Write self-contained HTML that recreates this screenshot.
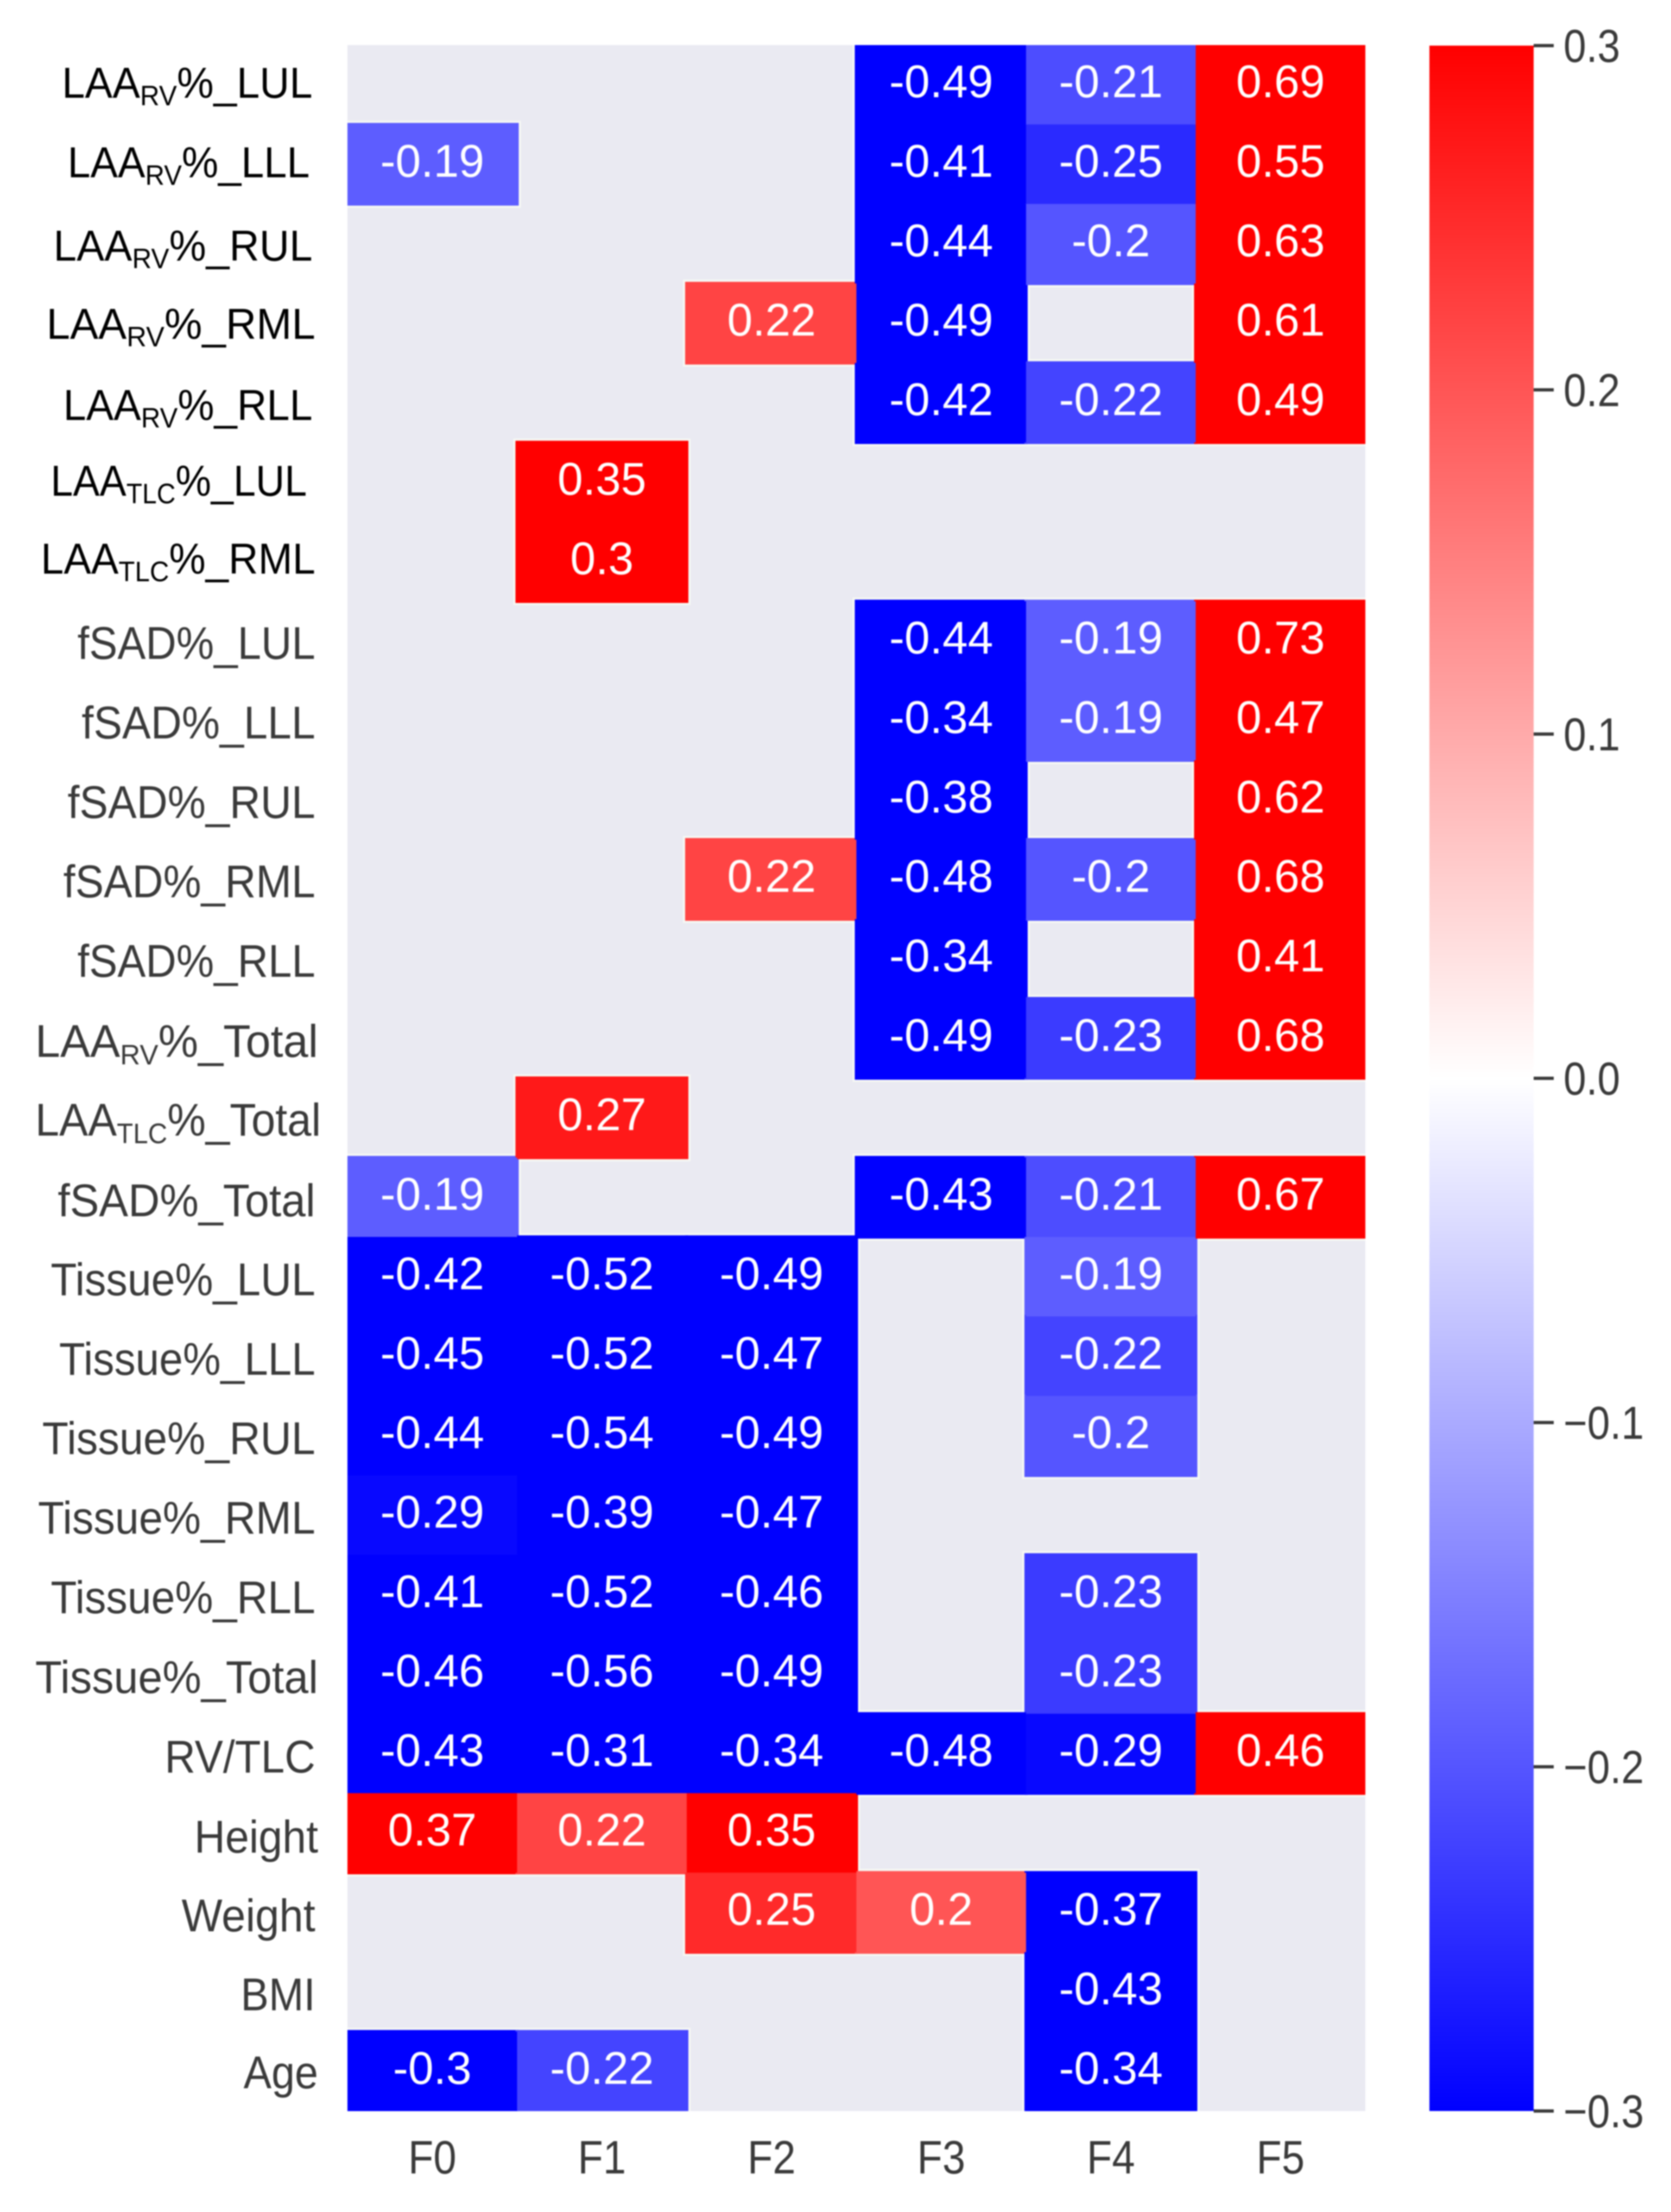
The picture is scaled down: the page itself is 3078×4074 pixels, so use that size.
<!DOCTYPE html>
<html lang="en">
<head>
<meta charset="utf-8">
<title>Correlation heatmap</title>
<style>
html,body{margin:0;padding:0;background:#fff;width:3078px;height:4074px;overflow:hidden}
svg{display:block;filter:blur(1.2px)}
text{font-family:"Liberation Sans",Arial,sans-serif}
</style>
</head>
<body>
<svg id="chart" xmlns="http://www.w3.org/2000/svg" width="3078" height="4074" viewBox="0 0 3078 4074">
  <defs>
    <linearGradient id="bwr" x1="0" y1="0" x2="0" y2="1">
      <stop offset="0" stop-color="#ff0000"/>
      <stop offset="0.5" stop-color="#ffffff"/>
      <stop offset="1" stop-color="#0000ff"/>
    </linearGradient>
  </defs>
  <rect x="0" y="0" width="3078" height="4074" fill="#ffffff"/>
  <g id="plot"></g>
  <g id="rowAxis"></g>
  <g id="colAxis"></g>
  <g id="cbar"></g>
</svg>
<script>
// ---------- data ----------
const columns = ['F0','F1','F2','F3','F4','F5'];
const rowPrefix = ['LAA','LAA','LAA','LAA','LAA','LAA','LAA','fSAD','fSAD','fSAD','fSAD','fSAD','LAA','LAA','fSAD','Tissue','Tissue','Tissue','Tissue','Tissue','Tissue','RV/TLC','Height','Weight','BMI','Age'];
const rowSub = ['RV','RV','RV','RV','RV','TLC','TLC','','','','','','RV','TLC','','','','','','','','','','','',''];
const rowSuffix = ['%_LUL','%_LLL','%_RUL','%_RML','%_RLL','%_LUL','%_RML','%_LUL','%_LLL','%_RUL','%_RML','%_RLL','%_Total','%_Total','%_Total','%_LUL','%_LLL','%_RUL','%_RML','%_RLL','%_Total','','','','',''];
// null = no value (gray background)
const valuesF0 = [null,-0.19,null,null,null,null,null,null,null,null,null,null,null,null,-0.19,-0.42,-0.45,-0.44,-0.29,-0.41,-0.46,-0.43,0.37,null,null,-0.3];
const valuesF1 = [null,null,null,null,null,0.35,0.3,null,null,null,null,null,null,0.27,null,-0.52,-0.52,-0.54,-0.39,-0.52,-0.56,-0.31,0.22,null,null,-0.22];
const valuesF2 = [null,null,null,0.22,null,null,null,null,null,null,0.22,null,null,null,null,-0.49,-0.47,-0.49,-0.47,-0.46,-0.49,-0.34,0.35,0.25,null,null];
const valuesF3 = [-0.49,-0.41,-0.44,-0.49,-0.42,null,null,-0.44,-0.34,-0.38,-0.48,-0.34,-0.49,null,-0.43,null,null,null,null,null,null,-0.48,null,0.2,null,null];
const valuesF4 = [-0.21,-0.25,-0.2,null,-0.22,null,null,-0.19,-0.19,null,-0.2,null,-0.23,null,-0.21,-0.19,-0.22,-0.2,null,-0.23,-0.23,-0.29,null,-0.37,-0.43,-0.34];
const valuesF5 = [0.69,0.55,0.63,0.61,0.49,null,null,0.73,0.47,0.62,0.68,0.41,0.68,null,0.67,null,null,null,null,null,null,0.46,null,null,null,null];
const colorbarTicks = [0.3,0.2,0.1,0,-0.1,-0.2,-0.3];
const colorbarTickLabels = ['0.3','0.2','0.1','0.0','\u22120.1','\u22120.2','\u22120.3'];

const series = [valuesF0,valuesF1,valuesF2,valuesF3,valuesF4,valuesF5];

// ---------- layout & axis functions ----------
const NS = 'http://www.w3.org/2000/svg';
const plotLeft = 640, plotTop = 83, colW = 312.5, rowH = 146.35;
const vmax = 0.3;
const xOf = c => plotLeft + c * colW;
const yOf = r => plotTop + r * rowH;
const plotRight = xOf(columns.length), plotBottom = yOf(rowPrefix.length);
const cbarLeft = 2633, cbarRight = 2825, cbarTop = 84, cbarBottom = 3888;
const cbarY = v => cbarTop + (vmax - v) / (2 * vmax) * (cbarBottom - cbarTop);
function colorOf(v){
  const t = Math.min(1, Math.abs(v) / vmax);
  const k = Math.round(255 * (1 - t));
  return v < 0 ? `rgb(${k},${k},255)` : `rgb(255,${k},${k})`;
}
function fmt(v){ return String(v); }
// a cell's rectangle grown by some pixels, clipped to the plot area
function grownBox(c, r, grow){
  const x0 = Math.max(xOf(c) - grow, plotLeft);
  const x1 = Math.min(xOf(c) + colW + grow, plotRight);
  const y0 = Math.max(yOf(r) - grow, plotTop);
  const y1 = Math.min(yOf(r) + rowH + grow, plotBottom);
  return {x: x0, y: y0, w: x1 - x0, h: y1 - y0};
}

const make = tag => document.createElementNS(NS, tag);
const plot = document.getElementById('plot');
const rowAxis = document.getElementById('rowAxis');
const colAxis = document.getElementById('colAxis');
const cbar = document.getElementById('cbar');

// plot background
const bg = make('rect');
bg.setAttribute('x', plotLeft);
bg.setAttribute('y', plotTop);
bg.setAttribute('width', plotRight - plotLeft);
bg.setAttribute('height', plotBottom - plotTop);
bg.setAttribute('fill', '#eaeaf2');


plot.appendChild(bg);

// sharpening halo around the colored cells
series.forEach((vals, c) => {
  vals.forEach((v, r) => {
    if (v === null) return;
    const box = grownBox(c, r, 7);
    const halo = make('rect');
    halo.setAttribute('x', box.x);
    halo.setAttribute('y', box.y);
    halo.setAttribute('width', box.w);
    halo.setAttribute('height', box.h);
    halo.setAttribute('fill', '#f6f8f4');
    
    
    plot.appendChild(halo);
  });
});
// slight overhang of each pasted patch
series.forEach((vals, c) => {
  vals.forEach((v, r) => {
    if (v === null) return;
    const box = grownBox(c, r, 3);
    const over = make('rect');
    over.setAttribute('x', box.x);
    over.setAttribute('y', box.y);
    over.setAttribute('width', box.w);
    over.setAttribute('height', box.h);
    over.setAttribute('fill', colorOf(v));
    
    
    plot.appendChild(over);
  });
});
// cells
series.forEach((vals, c) => {
  vals.forEach((v, r) => {
    if (v === null) return;
    const rect = make('rect');
    rect.setAttribute('x', xOf(c));
    rect.setAttribute('y', yOf(r));
    rect.setAttribute('width', colW);
    rect.setAttribute('height', rowH);
    rect.setAttribute('fill', colorOf(v));
    
    
    plot.appendChild(rect);
  });
});
// annotations drawn above all cells
series.forEach((vals, c) => {
  vals.forEach((v, r) => {
    if (v === null) return;
    const t = make('text');
    t.setAttribute('x', xOf(c) + colW / 2);
    t.setAttribute('y', yOf(r) + rowH / 2 + 23);
    t.setAttribute('text-anchor', 'middle');
    t.setAttribute('font-size', '84');
    t.setAttribute('fill', '#ffffff');
    
    
    t.textContent = fmt(v);
    plot.appendChild(t);
  });
});

// row labels: horizontal ink extents and baseline offsets in page pixels
const labelScale = 2.593;
const labelLeft = [44,48,38,33,45,36,29,55,58,48,45,55,25,25,41,36,42,30,27,36,25,117,138,129,171,173];
const labelRight = [222,220,222,224,222,218,224,224,224,224,224,224,226,228,224,224,224,224,224,224,226,224,226,224,224,226];
const labelBaseline = [24,24,31,29,32,25,22,33,33,33,33,33,34,33,35,34,34,34,34,34,35,35,36,35,34,31];
rowPrefix.forEach((p, r) => {
  const t = make('text');
  t.setAttribute('x', labelLeft[r] * labelScale);
  t.setAttribute('y', yOf(r) + rowH / 2 + labelBaseline[r]);
  t.setAttribute('font-size', r < 7 ? '80' : '84');
  t.setAttribute('fill', r < 7 ? '#000000' : '#3a3a3a');
  t.setAttribute('textLength', (labelRight[r] - labelLeft[r]) * labelScale);
  t.setAttribute('lengthAdjust', 'spacingAndGlyphs');
  
  
  const a = make('tspan');
  a.textContent = p;
  t.appendChild(a);
  if (rowSub[r]) {
    const s = make('tspan');
    s.setAttribute('font-size', '52');
    s.setAttribute('dy', '14');
    s.textContent = rowSub[r];
    t.appendChild(s);
    const b = make('tspan');
    b.setAttribute('dy', '-14');
    b.textContent = rowSuffix[r];
    t.appendChild(b);
  } else if (rowSuffix[r]) {
    const b = make('tspan');
    b.textContent = rowSuffix[r];
    t.appendChild(b);
  }
  rowAxis.appendChild(t);
});

// column labels (reference text is slightly stretched vertically)
columns.forEach((name, c) => {
  const t = make('text');
  t.setAttribute('transform', `translate(${xOf(c) + colW / 2},4003) scale(1,1.14)`);
  t.setAttribute('text-anchor', 'middle');
  t.setAttribute('font-size', '76');
  t.setAttribute('fill', '#3a3a3a');
  
  
  t.textContent = name;
  colAxis.appendChild(t);
});

// colorbar
const bar = make('rect');
bar.setAttribute('x', cbarLeft);
bar.setAttribute('y', cbarTop);
bar.setAttribute('width', cbarRight - cbarLeft);
bar.setAttribute('height', cbarBottom - cbarTop);
bar.setAttribute('fill', 'url(#bwr)');


cbar.appendChild(bar);
colorbarTicks.forEach((v, i) => {
  const y = cbarY(v);
  const tick = make('line');
  tick.setAttribute('x1', cbarRight);
  tick.setAttribute('x2', 2862);
  tick.setAttribute('y1', y);
  tick.setAttribute('y2', y);
  tick.setAttribute('stroke', '#3a3a3a');
  tick.setAttribute('stroke-width', '6');
  
  
  cbar.appendChild(tick);
  const t = make('text');
  t.setAttribute('transform', `translate(2880,${y + 30}) scale(1,1.14)`);
  t.setAttribute('font-size', '75');
  t.setAttribute('fill', '#3a3a3a');
  
  
  t.textContent = colorbarTickLabels[i];
  cbar.appendChild(t);
});
</script>
</body>
</html>
